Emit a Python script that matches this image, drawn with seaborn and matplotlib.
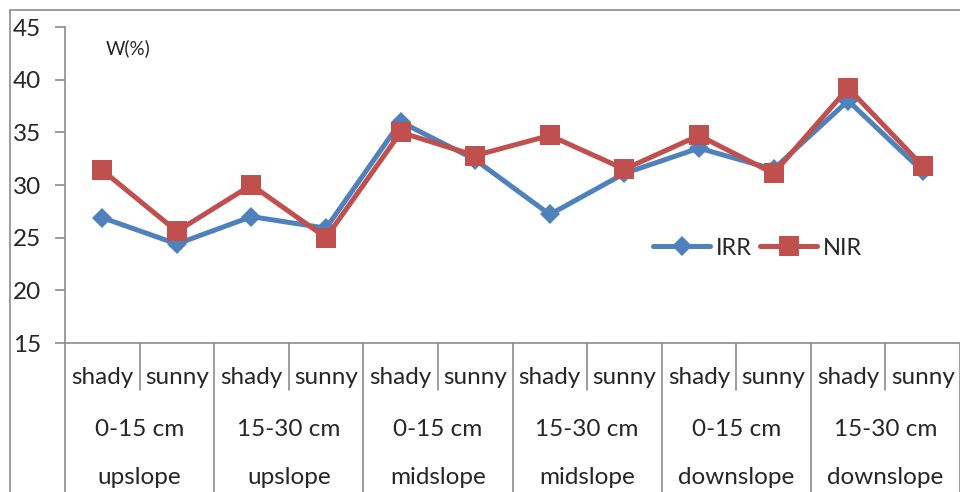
import numpy as np
import pandas as pd
import seaborn as sns
import matplotlib.pyplot as plt
from matplotlib.lines import Line2D

# DATA
aspect = ["shady", "sunny"] * 6
depth = ["0-15 cm", "15-30 cm"] * 3
slope = ["upslope", "upslope", "midslope", "midslope", "downslope", "downslope"]
irr = [26.9, 24.4, 27.0, 25.9, 36.0, 32.4, 27.2, 31.1, 33.5, 31.5, 38.0, 31.3]
nir = [31.4, 25.6, 30.0, 25.0, 35.0, 32.8, 34.7, 31.5, 34.7, 31.1, 39.2, 31.8]

pos = np.arange(len(aspect))
df = pd.DataFrame({
    "pos": np.concatenate([pos, pos]),
    "W": irr + nir,
    "series": ["IRR"] * len(irr) + ["NIR"] * len(nir),
})

sns.set_style("white")
plt.rcParams["font.family"] = ["Lato", "DejaVu Sans"]

fig = plt.figure(figsize=(9.6, 4.92), dpi=100)
ax = fig.add_axes([65 / 960, (492 - 343) / 492, 895 / 960, 316 / 492])

palette = {"IRR": "#4F81BD", "NIR": "#C0504D"}
sns.lineplot(data=df, x="pos", y="W", hue="series", style="series",
             hue_order=["IRR", "NIR"], palette=palette,
             markers={"IRR": "D", "NIR": "s"}, dashes=False,
             linewidth=3.6, markeredgewidth=0, legend=False, ax=ax)
ax.lines[0].set_markersize(10)
ax.lines[1].set_markersize(14.5)

# AXES
ax.set_xlim(-0.5, len(aspect) - 0.5)
ax.set_ylim(15, 45)
ax.set_yticks(range(15, 46, 5))
ax.set_xticks([])
ax.set_xlabel("")
ax.set_ylabel("")
ax.tick_params(axis="y", direction="out", length=7, width=1.2, color="#8c8c8c",
               labelsize=17.5, pad=10, left=True)
for side in ["top", "right"]:
    ax.spines[side].set_visible(False)
for side in ["left", "bottom"]:
    ax.spines[side].set_color("#8c8c8c")
    ax.spines[side].set_linewidth(1.2)

ax.text(0.046, 0.934, "W(%)", transform=ax.transAxes, fontsize=13.5, va="center")

# MULTI-LEVEL CATEGORY TABLE
fs = 17.5
trans = ax.get_xaxis_transform()
for i, lab in enumerate(aspect):
    ax.text(i, -0.108, lab, transform=trans, ha="center", va="center", fontsize=fs)
for j in range(len(slope)):
    ax.text(2 * j + 0.5, -0.275, depth[j], transform=trans,
            ha="center", va="center", fontsize=fs)
    ax.text(2 * j + 0.5, -0.427, slope[j], transform=trans,
            ha="center", va="center", fontsize=fs)
for j in range(len(aspect) // 2):
    ax.add_line(Line2D([2 * j + 0.5] * 2, [0, -0.15], transform=trans,
                       color="#8c8c8c", lw=1.2, clip_on=False))
for j in range(len(aspect) // 2 + 1):
    ax.add_line(Line2D([2 * j - 0.5] * 2, [0, -0.5], transform=trans,
                       color="#8c8c8c", lw=1.2, clip_on=False))

# LEGEND
handles = [Line2D([], [], color=palette["IRR"], lw=3.6, marker="D", markersize=10, mew=0),
           Line2D([], [], color=palette["NIR"], lw=3.6, marker="s", markersize=14.5, mew=0)]
ax.legend(handles, ["IRR", "NIR"], loc="center", bbox_to_anchor=(0.774, 0.30),
          ncol=2, frameon=False, fontsize=17, handlelength=2.4,
          handletextpad=0.25, columnspacing=0.35)

# OUTER CHART BORDER
fig.add_artist(Line2D([9.5 / 960] * 2, [0, 1 - 10 / 492], color="#8c8c8c", lw=1.2))
fig.add_artist(Line2D([9.5 / 960, 1], [1 - 10 / 492] * 2, color="#8c8c8c", lw=1.2))

fig.savefig("out.png", dpi=100)
